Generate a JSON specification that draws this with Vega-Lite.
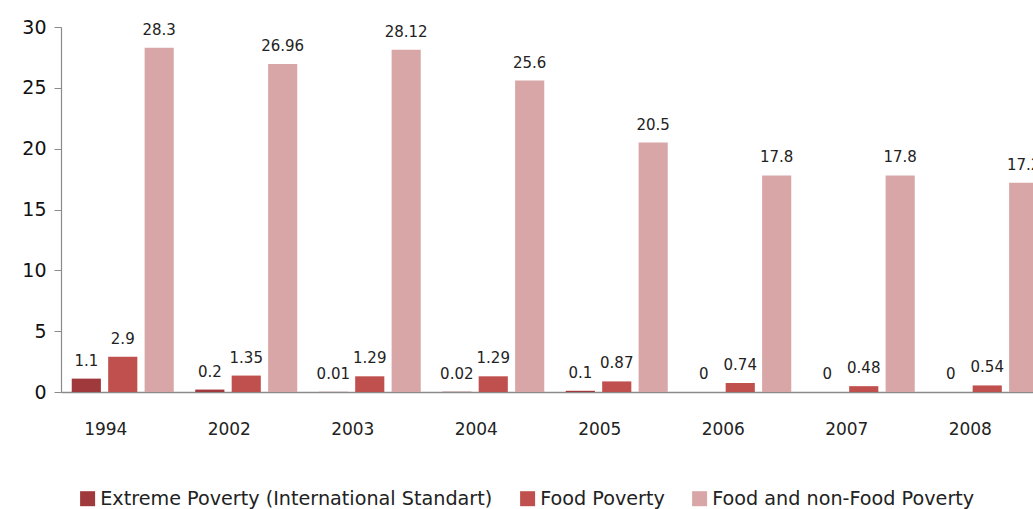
{
  "$schema": "https://vega.github.io/schema/vega-lite/v6.json",
  "autosize": "none",
  "padding": {"left": 61, "top": 27, "right": 0, "bottom": 117},
  "width": 972,
  "height": 365,
  "background": "white",
  "config": {"view": {"stroke": null}},
  "data": {"values": [
    {"year": "1994", "series": "Extreme Poverty (International Standart)", "value": 1.1},
    {"year": "1994", "series": "Food Poverty", "value": 2.9},
    {"year": "1994", "series": "Food and non-Food Poverty", "value": 28.3},
    {"year": "2002", "series": "Extreme Poverty (International Standart)", "value": 0.2},
    {"year": "2002", "series": "Food Poverty", "value": 1.35},
    {"year": "2002", "series": "Food and non-Food Poverty", "value": 26.96},
    {"year": "2003", "series": "Extreme Poverty (International Standart)", "value": 0.01},
    {"year": "2003", "series": "Food Poverty", "value": 1.29},
    {"year": "2003", "series": "Food and non-Food Poverty", "value": 28.12},
    {"year": "2004", "series": "Extreme Poverty (International Standart)", "value": 0.02},
    {"year": "2004", "series": "Food Poverty", "value": 1.29},
    {"year": "2004", "series": "Food and non-Food Poverty", "value": 25.6},
    {"year": "2005", "series": "Extreme Poverty (International Standart)", "value": 0.1},
    {"year": "2005", "series": "Food Poverty", "value": 0.87},
    {"year": "2005", "series": "Food and non-Food Poverty", "value": 20.5},
    {"year": "2006", "series": "Extreme Poverty (International Standart)", "value": 0},
    {"year": "2006", "series": "Food Poverty", "value": 0.74},
    {"year": "2006", "series": "Food and non-Food Poverty", "value": 17.8},
    {"year": "2007", "series": "Extreme Poverty (International Standart)", "value": 0},
    {"year": "2007", "series": "Food Poverty", "value": 0.48},
    {"year": "2007", "series": "Food and non-Food Poverty", "value": 17.8},
    {"year": "2008", "series": "Extreme Poverty (International Standart)", "value": 0},
    {"year": "2008", "series": "Food Poverty", "value": 0.54},
    {"year": "2008", "series": "Food and non-Food Poverty", "value": 17.2}
  ]},
  "encoding": {
    "x": {
      "field": "year", "type": "nominal", "title": null,
      "scale": {"range": [0, 988], "paddingInner": 0.174, "paddingOuter": 0.087},
      "axis": {
        "labelAngle": 0, "labelFont": "DejaVu Sans", "labelFontSize": 17, "labelColor": "#222",
        "labelPadding": 29, "labelOffset": -17, "ticks": false,
        "domainColor": "#8a8a8a", "domainWidth": 1.5
      }
    },
    "xOffset": {
      "field": "series", "type": "nominal",
      "sort": ["Extreme Poverty (International Standart)", "Food Poverty", "Food and non-Food Poverty"],
      "scale": {"paddingInner": 0.2, "paddingOuter": 0}
    },
    "y": {
      "field": "value", "type": "quantitative", "title": null,
      "scale": {"domain": [0, 30], "nice": false},
      "axis": {
        "values": [0, 5, 10, 15, 20, 25, 30], "grid": false,
        "labelFont": "DejaVu Sans", "labelFontSize": 19, "labelColor": "#111",
        "labelPadding": 8, "tickSize": 7, "tickColor": "#8a8a8a",
        "domainColor": "#8a8a8a", "domainWidth": 1.2
      }
    }
  },
  "layer": [
    {
      "mark": {"type": "bar"},
      "encoding": {
        "color": {
          "field": "series", "type": "nominal",
          "sort": ["Extreme Poverty (International Standart)", "Food Poverty", "Food and non-Food Poverty"],
          "scale": {
            "domain": ["Extreme Poverty (International Standart)", "Food Poverty", "Food and non-Food Poverty"],
            "range": ["#a0393b", "#c0504d", "#d8a6a7"]
          },
          "legend": {
            "title": null, "orient": "none", "direction": "horizontal",
            "legendX": 17, "legendY": 462,
            "symbolType": "square", "symbolSize": 225, "symbolStrokeWidth": 0,
            "labelFont": "DejaVu Sans", "labelFontSize": 19.2, "labelColor": "#222",
            "labelOffset": 3, "columnPadding": 25, "labelLimit": 0
          }
        }
      }
    },
    {
      "mark": {"type": "text", "baseline": "alphabetic", "dy": -13, "font": "DejaVu Sans", "fontSize": 15, "color": "#222"},
      "encoding": {
        "text": {"field": "value", "type": "nominal"}
      }
    }
  ]
}
